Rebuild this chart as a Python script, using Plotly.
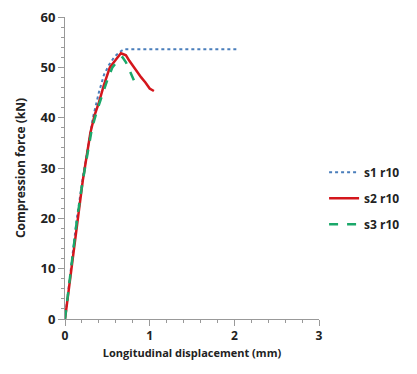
import plotly.graph_objects as go

# s1 r10 (dotted)
s1_disp = [0, 0.07, 0.14, 0.21, 0.27, 0.33, 0.40, 0.46, 0.52, 0.58, 0.64, 0.70, 1.0, 1.5, 2.05]
s1_force = [0, 10, 20, 28, 34, 40, 45, 48.5, 50.5, 52, 53, 53.6, 53.6, 53.6, 53.6]

# s2 r10 (solid)
s2_disp = [0, 0.04, 0.08, 0.12, 0.16, 0.21, 0.25, 0.30, 0.35, 0.40, 0.46, 0.53, 0.60, 0.66, 0.69, 0.72, 0.76, 0.80, 0.85, 0.90, 0.95, 1.00, 1.05]
s2_force = [0, 5, 10, 16, 21, 27.5, 32, 37, 40.5, 43, 46.5, 50, 51.5, 52.8, 52.6, 52.4, 51.3, 50.3, 49, 48, 47, 45.8, 45.3]

# s3 r10 (dashed)
s3_disp = [0, 0.07, 0.14, 0.21, 0.26, 0.32, 0.38, 0.44, 0.50, 0.56, 0.62, 0.68, 0.72, 0.76, 0.80, 0.83]
s3_force = [0, 10, 19.5, 27.5, 32, 38, 41.5, 44.5, 47.5, 50, 51.2, 52, 51, 49.5, 48, 46.8]

names = ["s1 r10", "s2 r10", "s3 r10"]

fig = go.Figure()
fig.add_trace(go.Scatter(x=s1_disp, y=s1_force, mode="lines", name=names[0], legendgroup="a",
                         line=dict(color="#4A7EBB", width=2, dash="dot")))
fig.add_trace(go.Scatter(x=s2_disp, y=s2_force, mode="lines", name=names[1], legendgroup="b",
                         line=dict(color="#D4161C", width=2.5)))
fig.add_trace(go.Scatter(x=s3_disp, y=s3_force, mode="lines", name=names[2], legendgroup="c",
                         line=dict(color="#1BA86A", width=2.5, dash="dash")))

font_family = "Open Sans, DejaVu Sans, sans-serif"
fig.update_layout(
    width=409, height=366,
    margin=dict(l=57, r=98, t=9, b=55),
    paper_bgcolor="white", plot_bgcolor="white",
    font=dict(family=font_family, size=12, color="#222222"),
    showlegend=True,
    legend=dict(x=1.02, y=0.4, xanchor="left", yanchor="middle",
                font=dict(size=12, color="#222222", weight="bold"),
                itemwidth=30, tracegroupgap=7, bgcolor="rgba(0,0,0,0)"),
    xaxis=dict(range=[0, 3], tickvals=[0, 1, 2, 3], showgrid=False, zeroline=False,
               automargin=False, ticklabeloverflow="allow",
               showline=True, linecolor="#999999", linewidth=1,
               ticks="outside", ticklen=6, tickcolor="#999999",
               tickfont=dict(size=12, weight="bold"),
               minor=dict(dtick=0.2, ticks="outside", ticklen=3, tickcolor="#999999"),
               title=dict(text="Longitudinal displacement (mm)",
                          font=dict(size=11, weight="bold"), standoff=5)),
    yaxis=dict(range=[0, 60], tickvals=[0, 10, 20, 30, 40, 50, 60], showgrid=False, zeroline=False,
               automargin=False, ticklabeloverflow="allow",
               showline=True, linecolor="#999999", linewidth=1,
               ticks="outside", ticklen=6, tickcolor="#999999",
               tickfont=dict(size=13, weight="bold"),
               minor=dict(dtick=2, ticks="outside", ticklen=3, tickcolor="#999999"),
               title=dict(text="Compression force (kN)",
                          font=dict(size=12, weight="bold"), standoff=12)),
)

fig.write_html("out.html")
